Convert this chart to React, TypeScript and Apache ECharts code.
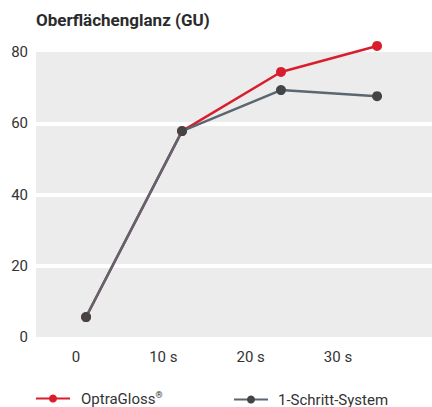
import React, { useEffect, useRef } from "react";
import * as echarts from "echarts";

const timesSec = [1.15, 12.14, 23.47, 34.47];
const optraGloss = [5.6, 57.8, 74.4, 81.7];
const einSchritt = [5.6, 57.8, 69.3, 67.6];
const xTickValues = [0, 10, 20, 30];
const seriesNames = ["OptraGloss", "1-Schritt-System"];
const titleText = "Oberflächenglanz (GU)";

const FONT = "Roboto";

export default function App() {
  const ref = useRef<HTMLDivElement>(null);
  useEffect(() => {
    if (!ref.current) return;
    const chart = echarts.init(ref.current, undefined, { renderer: "svg" });
    chart.setOption({
      animation: false,
      backgroundColor: "#ffffff",
      textStyle: { fontFamily: FONT },
      title: {
        text: titleText,
        left: 31,
        top: 6,
        textStyle: { fontFamily: FONT, fontSize: 17, fontWeight: "bold", color: "#2b2b2b" },
      },
      legend: [
        {
          data: [seriesNames[0]],
          left: 35,
          top: 390,
          padding: 0,
          itemWidth: 34,
          itemHeight: 10,
          formatter: () => "OptraGloss{sup|®}",
          textStyle: {
            fontFamily: FONT,
            fontSize: 15,
            color: "#333",
            padding: [0, 0, 0, 6],
            rich: { sup: { fontSize: 9, verticalAlign: "top", padding: [0, 0, 8, 0], color: "#333" } },
          },
        },
        {
          data: [seriesNames[1]],
          left: 233,
          top: 392,
          padding: 0,
          itemWidth: 34,
          itemHeight: 10,
          textStyle: { fontFamily: FONT, fontSize: 15, color: "#333", padding: [0, 0, 0, 5] },
        },
      ],
      grid: {
        left: 36,
        right: 0,
        top: 52,
        bottom: 70,
        show: true,
        backgroundColor: "#ececed",
        borderWidth: 0,
      },
      xAxis: {
        type: "value",
        min: -4.58,
        max: 40.76,
        axisLine: { show: false },
        axisTick: { show: false },
        splitLine: { show: false },
        axisLabel: {
          customValues: xTickValues,
          margin: 12,
          fontFamily: FONT,
          fontSize: 15,
          color: "#333",
          formatter: (v: number) => (v === 0 ? "0" : `${v} s`),
        },
      },
      yAxis: {
        type: "value",
        min: 0,
        max: 80,
        interval: 20,
        axisLine: { show: false },
        axisTick: { show: false },
        axisLabel: { margin: 8, fontFamily: FONT, fontSize: 15, color: "#333" },
        splitLine: {
          show: true,
          lineStyle: {
            width: 4,
            color: ["rgba(0,0,0,0)", "#ffffff", "#ffffff", "#ffffff", "rgba(0,0,0,0)"],
          },
        },
      },
      series: [
        {
          name: seriesNames[0],
          type: "line",
          clip: false,
          data: timesSec.map((t, i) => [t, optraGloss[i]]),
          symbol: "circle",
          symbolSize: 10,
          lineStyle: { color: "#d81e2c", width: 2.5 },
          itemStyle: { color: "#d81e2c" },
          z: 2,
        },
        {
          name: seriesNames[1],
          type: "line",
          clip: false,
          data: timesSec.map((t, i) => [t, einSchritt[i]]),
          symbol: "circle",
          symbolSize: 10,
          lineStyle: { color: "#5a6670", width: 2.5 },
          itemStyle: { color: "#444444" },
          z: 3,
        },
      ],
    });
    return () => chart.dispose();
  }, []);
  return <div ref={ref} style={{ width: 432, height: 407, position: "absolute", left: 0, top: 0 }} />;
}
